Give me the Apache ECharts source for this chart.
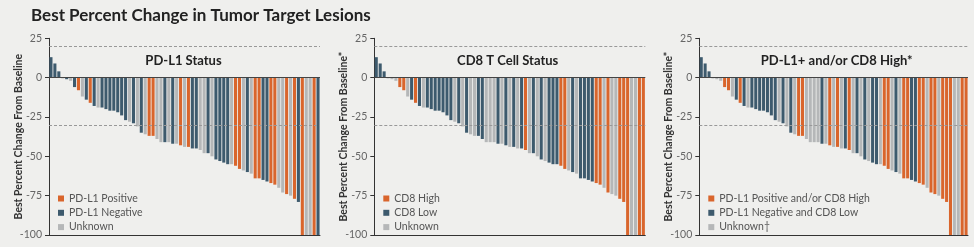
<!DOCTYPE html>
<html><head><meta charset="utf-8">
<script src="https://cdn.jsdelivr.net/npm/echarts@6/dist/echarts.min.js"></script>
<style>html,body{margin:0;padding:0;background:#efefed}#c{width:974px;height:247px}</style>
</head><body><div id="c"></div>
<script>
// Best percent change per patient (sorted waterfall)
const values = [13, 9, 4, -0.5, -1, -2, -6, -8, -12, -14, -16, -18, -19, -19, -20, -21, -21, -22, -24, -27,
  -28, -29, -31, -35, -36, -37, -37, -39, -41, -41, -41, -42, -42, -43, -44, -44, -45, -45, -46, -48,
  -48, -50, -52, -53, -54, -55, -55, -56, -58, -59, -60, -61, -64, -64, -65, -66, -67, -68, -70, -73,
  -74, -75, -77, -79, -100, -100, -100, -100, -100];
// status codes per bar: A = positive/high, B = negative/low, U = unknown
const pdl1Status  = "BBBUBUBAUBABUBBBBBBBUBUBUAAUUBUBUAUABBUUBUBBBBUAAUBUAABBAAUUAUABAUUAB".split("");
const cd8Status   = "BBBUUUAAUBABUBBBBBBBUBUBUUBBUUUBUBUBUBAUBUBUBBBAAUBUBBBBAAUAUUAAAUUAA".split("");
const comboStatus = "BBBUUUAAUBABUBBBBBBBUBUBUAAUUUUBUAUAUBAUBUBUBBUAAUBUAABBAAUAAUAAAUUAA".split("");
const yTicks = [25, 0, -25, -50, -75, -100];
const panelTitles = ["PD-L1 Status", "CD8 T Cell Status", "PD-L1+ and/or CD8 High*"];
const yNames = ["Best Percent Change From Baseline", "Best Percent Change From Baseline*", "Best Percent Change From Baseline*"];
const legendNames = [
  ["PD-L1 Positive", "PD-L1 Negative", "Unknown"],
  ["CD8 High", "CD8 Low", "Unknown"],
  ["PD-L1 Positive and/or CD8 High", "PD-L1 Negative and CD8 Low", "Unknown\u2020"]
];
const statuses = [pdl1Status, cd8Status, comboStatus];
const refLines = [20, -30];

const COLORS = {A: "#d9652c", B: "#3d5a6d", U: "#b5b7b8"};
const FONT = "Lato, 'Noto Sans', sans-serif";
const grids = [
  {left: 49, top: 38.3, width: 271, height: 196.7},
  {left: 374.3, top: 38.3, width: 271, height: 196.7},
  {left: 699.3, top: 38.3, width: 268.7, height: 196.7}
];
const cats = values.map((v, i) => String(i + 1));

const option = {
  backgroundColor: "#efefed",
  animation: false,
  title: {text: "Best Percent Change in Tumor Target Lesions", left: 26, top: 2,
    textStyle: {fontFamily: FONT, fontSize: 17, fontWeight: "bold", color: "#222"}},
  grid: grids,
  xAxis: grids.map((g, i) => ({type: "category", gridIndex: i, data: cats,
    axisLine: {onZero: false, lineStyle: {color: "#333", width: 1}}, axisTick: {show: false},
    axisLabel: {show: false}, splitLine: {show: false}})),
  yAxis: grids.map((g, i) => ({type: "value", gridIndex: i, min: -100, max: 25, interval: 25,
    axisLine: {show: true, lineStyle: {color: "#333", width: 1}},
    axisTick: {show: true, length: 4, lineStyle: {color: "#333"}},
    axisLabel: {color: "#666", fontFamily: FONT, fontSize: 10.5, margin: 7,
      formatter: v => yTicks.includes(v) ? String(v) : ""},
    splitLine: {show: false},
    name: yNames[i], nameLocation: "middle", nameGap: 25, nameMoveOverlap: false,
    nameTextStyle: {fontFamily: FONT, fontSize: 10.5, fontWeight: "bold", color: "#333"}})),
  legend: grids.map((g, i) => ({orient: "vertical", left: g.left + 4, top: 188,
    itemWidth: 6, itemHeight: 6, itemGap: 3.3, icon: "rect", data: legendNames[i],
    textStyle: {fontFamily: FONT, fontSize: 10.5, color: "#555", lineHeight: 11}, selectedMode: false})),
  graphic: panelTitles.map((t, i) => ({type: "text", x: [183.5, 507.7, 836.7][i], y: 61,
    style: {text: t, fontFamily: FONT, fontSize: 13, fontWeight: "bold", fill: "#222",
      textAlign: "center", textVerticalAlign: "middle"}})),
  series: []
};

statuses.forEach((st, p) => {
  ["A", "B", "U"].forEach((code, k) => {
    const s = {type: "bar", name: legendNames[p][k], xAxisIndex: p, yAxisIndex: p, stack: "p" + p,
      barCategoryGap: "22%", itemStyle: {color: COLORS[code]},
      data: values.map((v, i) => st[i] === code ? v : "-")};
    if (k === 0) {
      s.markLine = {silent: true, symbol: "none", label: {show: false},
        data: [
          ...refLines.map(y => ({yAxis: y, lineStyle: {type: [3, 2], color: "#999", width: 1}})),
          {yAxis: 0, lineStyle: {type: "solid", color: "#444", width: 1}}
        ]};
    }
    option.series.push(s);
  });
});

const chart = echarts.init(document.getElementById("c"), null, {renderer: "canvas"});
chart.setOption(option);
</script></body></html>
